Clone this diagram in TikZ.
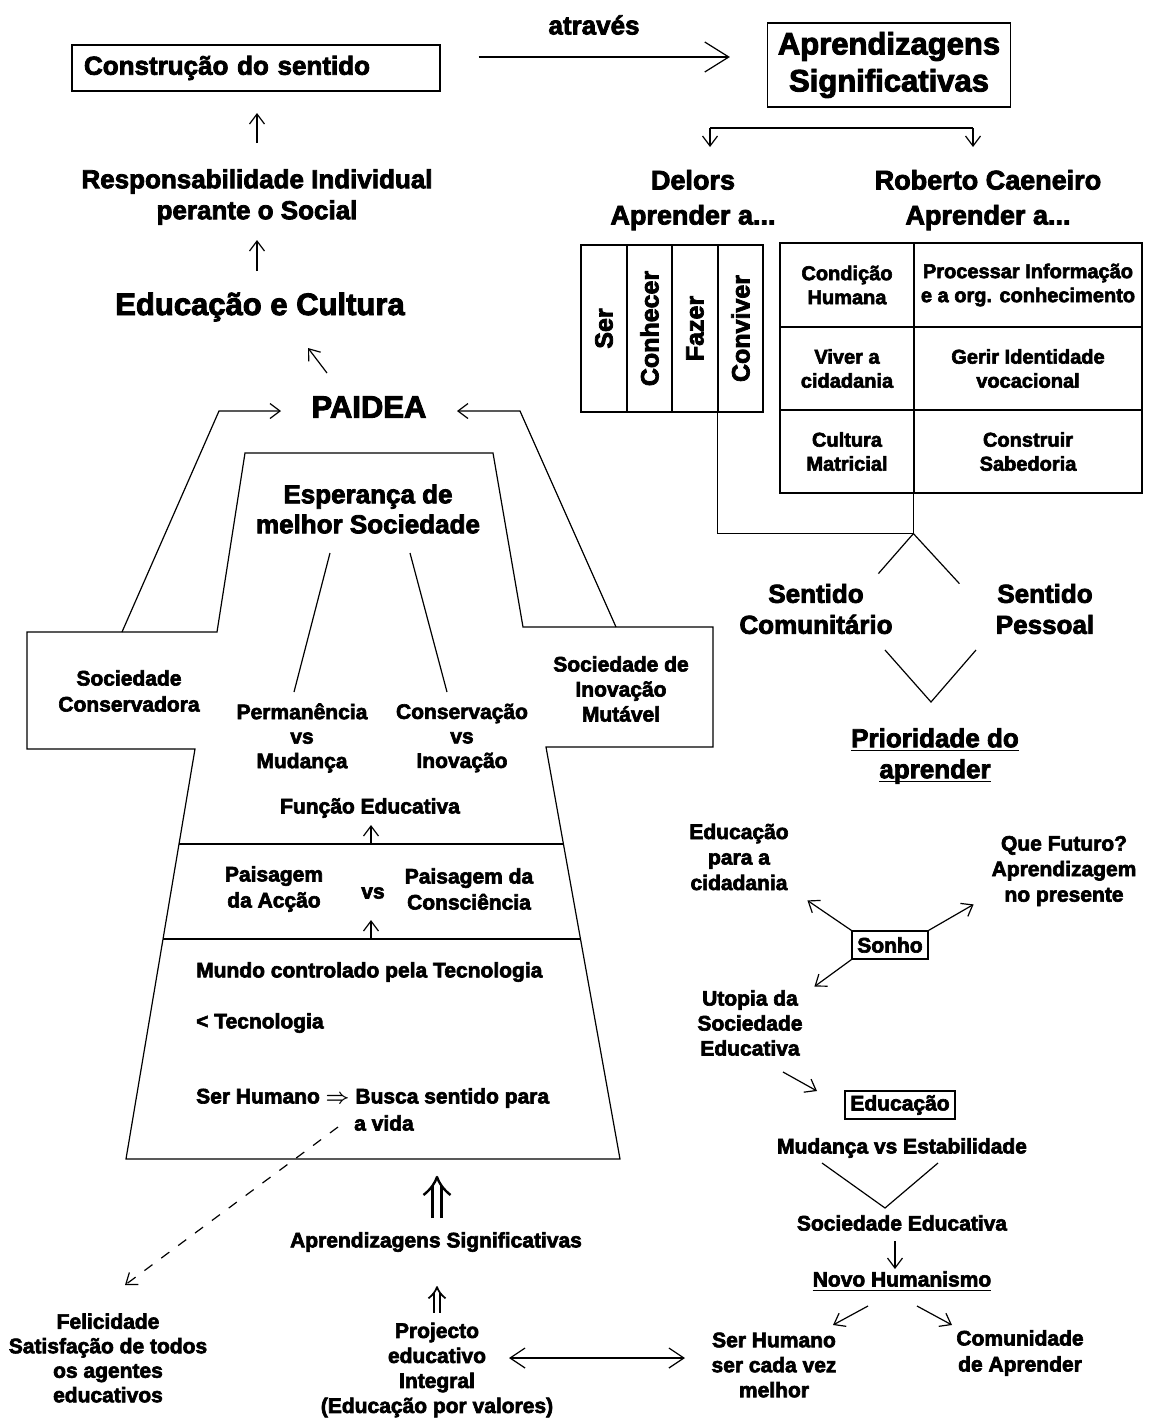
\documentclass[tikz,border=0pt]{standalone}
\usepackage{fontspec}
\setmainfont{Liberation Sans}[BoldFeatures={FakeBold=3}]
\usetikzlibrary{arrows.meta,calc}
\newcommand{\fsz}[2]{\fontsize{#1pt}{#2pt}\selectfont}
% underline set a fixed distance below the baseline
\newcommand{\undl}[1]{\setbox0\hbox{#1}\rlap{\rule[-4.2pt]{\wd0}{1.2pt}}\box0}

\begin{document}
\begin{tikzpicture}[x=1pt,y=-1pt,
  every node/.style={inner sep=0pt, align=center},
  ln/.style={line width=1.2pt},
  box/.style={draw, line width=1.2pt},
  arr/.style={line width=1.2pt, -{Straight Barb[length=10pt,width=15pt]}},
  bigarr/.style={line width=1.2pt, -{Straight Barb[length=24pt,width=30pt]}},
  twoway/.style={line width=1.2pt, {Straight Barb[length=15pt,width=20pt]}-{Straight Barb[length=15pt,width=20pt]}},
  cell/.style={box, font=\bfseries\fsz{25}{30}},
  rcell/.style={box, font=\bfseries\fsz{20}{24}},
  tA/.style={font=\bfseries\fsz{21}{25}},
  tB/.style={font=\bfseries\fsz{21}{25}},
  tC/.style={font=\bfseries\fsz{26}{31}},
  dup/.pic={
    \draw[line width=#1] (-4.5,41) -- (-4.5,9) (4.5,41) -- (4.5,9);
    \draw[line width=#1, line join=round]
      (-13.5,18) .. controls (-6,12) and (-2,6) .. (0,0)
      .. controls (2,6) and (6,12) .. (13.5,18);
  },
]
\fill[white] (0,0) rectangle (1149,1422);
\useasboundingbox (0,0) rectangle (1149,1422);

% ---------- top row ----------
\node[box, minimum width=368pt, minimum height=46pt, text width=344pt, align=left, tC] (constr) at (256,68) {Construção do sentido};
\node[tC] (atraves) at (594,25) {através};
\node[box, minimum width=243pt, minimum height=84pt, font=\bfseries\fsz{31}{37}] (aprend) at (889,65) {Aprendizagens\\Significativas};
\draw[bigarr, shorten <=38pt, shorten >=37pt] ([yshift=11pt]constr.east) -- ([yshift=8pt]aprend.west);

% ---------- branch to the two authors ----------
\coordinate (brL) at (710,128);
\coordinate (brR) at (973,128);
\draw[ln] (brL) -- (brR);
\draw[arr] (brL) -- ++(0,19);
\draw[arr] (brR) -- ++(0,19);
\node[font=\bfseries\fsz{27}{35}] (delors) at (693,200) {Delors\\Aprender a...};
\node[font=\bfseries\fsz{27}{35}] (roberto) at (988,200) {Roberto Caeneiro\\Aprender a...};

% Delors: four pillars
\node[cell, minimum width=46pt, minimum height=167pt] (ser) at (604,328.5) {\rotatebox{90}{Ser}};
\node[cell, minimum width=45pt, minimum height=167pt] (conhecer) at (649.5,328.5) {\rotatebox{90}{Conhecer}};
\node[cell, minimum width=46pt, minimum height=167pt] (fazer) at (695,328.5) {\rotatebox{90}{Fazer}};
\node[cell, minimum width=45pt, minimum height=167pt] (conviver) at (740.5,328.5) {\rotatebox{90}{Conviver}};

% Roberto Carneiro: six learnings
\node[rcell, minimum width=134pt, minimum height=84pt] (rc11) at (847,285) {Condição\\Humana};
\node[rcell, minimum width=228pt, minimum height=84pt] (rc12) at (1028,285) {Processar Informação\\e a org. conhecimento};
\node[rcell, minimum width=134pt, minimum height=83pt] (rc21) at (847,368.5) {Viver a\\cidadania};
\node[rcell, minimum width=228pt, minimum height=83pt] (rc22) at (1028,368.5) {Gerir Identidade\\vocacional};
\node[rcell, minimum width=134pt, minimum height=83pt] (rc31) at (847,451.5) {Cultura\\Matricial};
\node[rcell, minimum width=228pt, minimum height=83pt] (rc32) at (1028,451.5) {Construir\\Sabedoria};

% joining both tables
\coordinate (join) at ($(rc32.south west)+(0,40)$);
\draw[ln] (conviver.south west) |- (join) -- (rc32.south west);
\draw[ln] (join) -- ($(join)+(-35,40)$);
\draw[ln] (join) -- ($(join)+(46,50)$);

\node[tC] (sentC) at (816,609) {Sentido\\Comunitário};
\node[tC] (sentP) at (1045,609) {Sentido\\Pessoal};
\node[tC] (prior) at (935,756) {\undl{Prioridade do}\\\undl{aprender}};
\draw[ln] ($(prior)+(-50,-106)$) -- ($(prior)+(-4,-54)$) -- ($(prior)+(41,-106)$);

% ---------- left column ----------
\node[tC] (respons) at (257,197) {Responsabilidade Individual\\perante o Social};
\draw[arr] ($(respons)+(0,-54)$) -- ($(respons)+(0,-84)$);
\node[font=\bfseries\fsz{31}{37}] (educ) at (260,307) {Educação e Cultura};
\draw[arr] ($(educ)+(-3,-36)$) -- ($(educ)+(-3,-67)$);
\node[font=\bfseries\fsz{31}{37}] (paidea) at (369,407) {PAIDEA};
\draw[arr] ($(paidea)+(-42,-34)$) -- ($(paidea)+(-61,-59)$);

% ---------- the cross-shaped frame ----------
\draw[ln] (245,453) -- (493,453) -- (523,627) -- (713,627) -- (713,747) -- (546,747)
  -- (620,1159) -- (126,1159) -- (195,749) -- (27,749) -- (27,632) -- (217,632) -- cycle;
\draw[ln] (179,844) -- (563,844);
\draw[ln] (163,939) -- (580,939);

\coordinate (armL) at (122,632);
\coordinate (armR) at (616,627);
\draw[arr] (armL) -- ($(paidea)+(-150,4)$) -- ($(paidea)+(-88,4)$);
\draw[arr] (armR) -- ($(paidea)+(151,4)$) -- ($(paidea)+(88,4)$);

\node[font=\bfseries\fsz{26}{30}] (esper) at (368,509) {Esperança de\\melhor Sociedade};
\node[font=\bfseries\fsz{21}{26}] (socCons) at (129,691) {Sociedade\\Conservadora};
\node[font=\bfseries\fsz{21}{24.5}] (perm) at (302,738) {Permanência\\vs\\Mudança};
\node[font=\bfseries\fsz{21}{24.5}] (conserv) at (462,738) {Conservação\\vs\\Inovação};
\node[tA] (socInov) at (621,689) {Sociedade de\\Inovação\\Mutável};
\draw[ln] ($(esper)+(-38,44)$) -- ($(perm)+(-8,-46)$);
\draw[ln] ($(esper)+(42,44)$) -- ($(conserv)+(-15,-46)$);

\node[tA] (funcao) at (370,808) {Função Educativa};
\draw[arr] ($(funcao)+(1,36)$) -- ($(funcao)+(1,17)$);
\node[font=\bfseries\fsz{21}{26}] (paisA) at (274,889) {Paisagem\\da Acção};
\node[tA] (vs) at (373,893) {vs};
\node[font=\bfseries\fsz{21}{26}] (paisC) at (469,889) {Paisagem da\\Consciência};
\draw[arr] ($(vs)+(-2,46)$) -- ($(vs)+(-2,27)$);

\node[tA, anchor=west] (mundo) at (196,972) {Mundo controlado pela Tecnologia};
\node[tA, anchor=west] (tecn) at (196,1023) {< Tecnologia};
\node[tA, anchor=west] (serh) at (196,1098) {Ser Humano {\boldmath$\Rightarrow$} Busca sentido para};
\node[tA, anchor=west] (avida) at (354,1123) {a vida};

% ---------- below the frame ----------
\node[font=\bfseries\fsz{21}{24.5}] (felic) at (108,1358) {Felicidade\\Satisfação de todos\\os agentes\\educativos};
\draw[arr, dash pattern=on 10pt off 11pt] ($(avida.west)+(-16,4)$) -- ($(felic)+(17,-73)$);

\node[tB] (aprS) at (436,1242) {Aprendizagens Significativas};
\pic at ($(aprS)+(1,-65)$) {dup=2.4pt};
\node[tB] (projecto) at (437,1370) {Projecto\\educativo\\Integral\\(Educação por valores)};
\pic[scale=0.63] at ($(projecto)+(0,-83)$) {dup=1.7pt};

% ---------- right lower part ----------
\node[font=\bfseries\fsz{21}{25.5}] (educCid) at (739,857) {Educação\\para a\\cidadania};
\node[font=\bfseries\fsz{21}{25.5}] (queF) at (1064,871) {Que Futuro?\\Aprendizagem\\no presente};
\node[box, minimum width=76pt, minimum height=28pt, tB] (sonho) at (890,945) {Sonho};
\draw[arr] (sonho.north west) -- ($(sonho.north west)+(-44,-30)$);
\draw[arr] (sonho.north east) -- ($(sonho.north east)+(45,-26)$);
\draw[arr] (sonho.south west) -- ($(sonho.south west)+(-37,27)$);
\node[tB] (utopia) at (750,1023) {Utopia da\\Sociedade\\Educativa};
\node[box, minimum width=110pt, minimum height=28pt, tB] (educBox) at (900,1105) {Educação};
\draw[arr] ($(educBox)+(-117,-33)$) -- ($(educBox)+(-83,-14)$);
\node[tB] (mudanca) at (902,1148) {Mudança vs Estabilidade};
\node[tB] (socEd) at (902,1223) {Sociedade Educativa};
\draw[ln] ($(socEd)+(-80,-60)$) -- ($(socEd)+(-17,-15)$) -- ($(socEd)+(36,-60)$);
\node[tB] (novo) at (902,1281) {\undl{Novo Humanismo}};
\draw[arr] ($(novo)+(-7,-40)$) -- ($(novo)+(-7,-12)$);
\draw[arr] ($(novo)+(-34,25)$) -- ($(novo)+(-69,44)$);
\draw[arr] ($(novo)+(15,25)$) -- ($(novo)+(50,44)$);
\node[tB] (serh2) at (774,1365) {Ser Humano\\ser cada vez\\melhor};
\node[font=\bfseries\fsz{21}{26}] (comun) at (1020,1353) {Comunidade\\de Aprender};
\draw[twoway] ($(projecto)+(72,-12)$) -- ($(serh2)+(-89,-7)$);
\end{tikzpicture}
\end{document}
